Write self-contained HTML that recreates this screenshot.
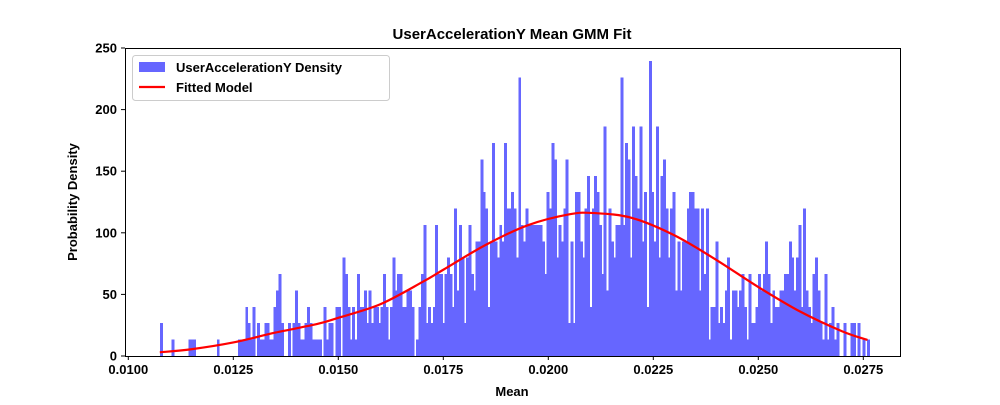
<!DOCTYPE html>
<html><head><meta charset="utf-8"><style>
body{margin:0;background:#fff}
svg text{font-family:"Liberation Sans",sans-serif;font-weight:bold}
</style></head><body>
<svg id="chart" width="1000" height="400" xmlns="http://www.w3.org/2000/svg">
<rect width="1000" height="400" fill="#fff"/>
<text x="512" y="39" text-anchor="middle" font-size="15">UserAccelerationY Mean GMM Fit</text>
<g id="bars" shape-rendering="crispEdges"></g>
<path id="curve" fill="none" stroke="#ff0000" stroke-width="2.2"/>
<rect x="125.5" y="48.5" width="775" height="308" fill="none" stroke="#000" stroke-width="1"/>
<g id="xt"></g>
<g id="yt"></g>
<text x="512" y="396" text-anchor="middle" font-size="13">Mean</text>
<text transform="translate(77,202) rotate(-90)" text-anchor="middle" font-size="13">Probability Density</text>
<g>
<rect x="132.5" y="55.5" width="257" height="45" rx="3" fill="#fff" stroke="#ccc"/>
<rect x="139" y="62" width="26" height="10" fill="#6666ff"/>
<text x="176" y="72" font-size="13">UserAccelerationY Density</text>
<line x1="139" y1="87" x2="165" y2="87" stroke="#ff0000" stroke-width="2.2"/>
<text x="176" y="92" font-size="13">Fitted Model</text>
</g>
</svg>
<script>
const binStart = 0.01075;
const binEnd = 0.02765;
const binCounts = [2,0,0,0,0,1,0,0,0,0,0,0,1,1,1,0,0,0,0,0,0,0,0,0,1,0,0,0,0,0,0,0,0,1,1,1,3,2,1,3,0,2,1,1,2,2,1,1,
3,4,5,2,0,0,2,0,2,4,2,1,1,2,3,2,1,1,1,1,0,3,1,2,2,0,3,3,0,6,5,3,1,3,1,5,3,3,4,2,4,2,3,3,2,3,5,3,1,3,6,
4,5,5,3,3,4,4,3,0,1,3,5,8,2,3,2,3,8,5,5,2,5,6,5,3,9,4,8,6,2,6,8,5,4,7,7,12,10,9,3,7,13,7,6,8,7,13,9,9,10,9,
6,17,8,7,9,8,8,8,8,8,8,7,5,10,9,13,12,6,8,7,9,12,2,7,2,10,10,7,6,9,11,3,9,11,10,8,5,14,4,9,7,6,8,8,17,8,13,12,6,14,11,
9,14,7,10,3,18,10,7,14,6,11,12,9,6,9,10,4,7,4,7,7,9,10,10,9,9,4,9,5,9,1,3,3,7,2,3,2,4,6,1,4,4,3,4,5,3,1,5,2,2,3,
5,4,5,7,5,2,4,3,3,4,4,5,5,7,6,4,6,8,3,9,4,3,2,5,6,4,2,1,5,1,2,3,1,2,0,0,2,0,0,2,2,0,2,0,1,0,1];
const densityPerCount = 13.3;
const curveX = [0.01075,0.0115,0.0125,0.0135,0.0145,0.0150,0.0160,0.0170,0.0175,0.0185,0.0195,0.0205,0.0211,0.0220,0.0230,0.0240,0.0250,0.0260,0.0270,0.0276];
const curveY = [3,5.5,11,19,26,31,42,60,70,90,106,115,116,112,98,78,56,36,20,13];
const xTicks = [0.0100,0.0125,0.0150,0.0175,0.0200,0.0225,0.0250,0.0275];
const xTickLabels = ["0.0100","0.0125","0.0150","0.0175","0.0200","0.0225","0.0250","0.0275"];
const yTicks = [0,50,100,150,200,250];

const NS="http://www.w3.org/2000/svg";
const X0=0.0100, PX0=128.3, K=42000;
function sx(v){return PX0+(v-X0)*K;}
function sy(v){return 356-v*308/250;}
const bars=document.getElementById('bars');
const bw=(binEnd-binStart)/binCounts.length;
binCounts.forEach((c,i)=>{
  if(!c) return;
  const r=document.createElementNS(NS,'rect');
  
  
  const x1=sx(binStart+i*bw), x2=sx(binStart+(i+1)*bw);
  r.setAttribute('x',x1);r.setAttribute('width',x2-x1+0.6);
  r.setAttribute('y',sy(c*densityPerCount));r.setAttribute('height',356-sy(c*densityPerCount));
  r.setAttribute('fill','#6666ff');
  bars.appendChild(r);
});
// smooth Catmull-Rom path through the curve points
const P=curveX.map((v,i)=>[sx(v),sy(curveY[i])]);
let d='M'+P[0][0]+','+P[0][1];
for(let i=0;i<P.length-1;i++){
  const p0=P[i-1]||P[i],p1=P[i],p2=P[i+1],p3=P[i+2]||P[i+1];
  const c1=[p1[0]+(p2[0]-p0[0])/6,p1[1]+(p2[1]-p0[1])/6];
  const c2=[p2[0]-(p3[0]-p1[0])/6,p2[1]-(p3[1]-p1[1])/6];
  d+=' C'+c1+' '+c2+' '+p2;
}
document.getElementById('curve').setAttribute('d',d);
const xt=document.getElementById('xt');
xTicks.forEach((v,i)=>{
  const l=document.createElementNS(NS,'line');
  
  
  l.setAttribute('x1',sx(v));l.setAttribute('x2',sx(v));l.setAttribute('y1',356);l.setAttribute('y2',360);l.setAttribute('stroke','#000');
  xt.appendChild(l);
  const t=document.createElementNS(NS,'text');
  
  
  t.setAttribute('x',sx(v));t.setAttribute('y',374);t.setAttribute('text-anchor','middle');t.setAttribute('font-size','13');
  t.textContent=xTickLabels[i];xt.appendChild(t);
});
const yt=document.getElementById('yt');
yTicks.forEach(v=>{
  const l=document.createElementNS(NS,'line');
  
  
  l.setAttribute('x1',121);l.setAttribute('x2',125);l.setAttribute('y1',sy(v));l.setAttribute('y2',sy(v));l.setAttribute('stroke','#000');
  yt.appendChild(l);
  const t=document.createElementNS(NS,'text');
  
  
  t.setAttribute('x',117);t.setAttribute('y',sy(v)+4.5);t.setAttribute('text-anchor','end');t.setAttribute('font-size','13');
  t.textContent=v;yt.appendChild(t);
});
</script>
</body></html>
